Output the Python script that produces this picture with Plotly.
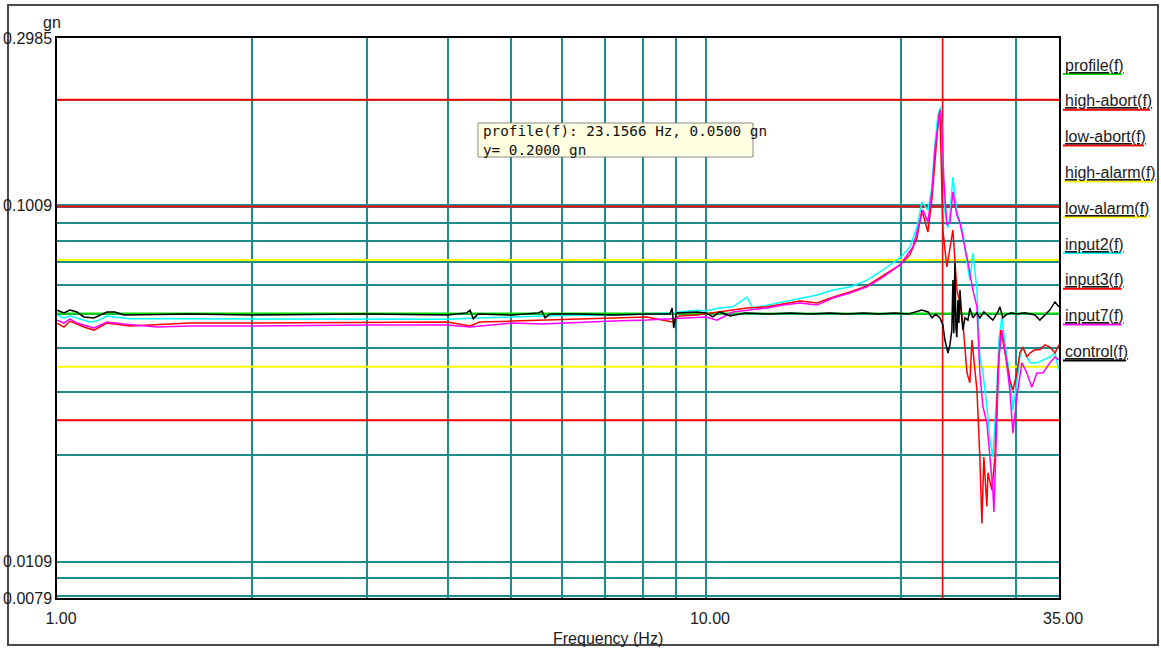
import math
import plotly.graph_objects as go

# ---------------- data ----------------
F_MIN, F_MAX = 1.0, 35.0
Y_MIN, Y_MAX = 0.0079, 0.2985

PROFILE_GN = 0.05
HIGH_ABORT_GN = 0.1
LOW_ABORT_GN = 0.025
HIGH_ALARM_GN = 0.0707
LOW_ALARM_GN = 0.0354

CURSOR_F = 23.1566
CURSOR_Y = 0.2

x_tick_vals = [1, 10, 35]
x_tick_text = ["1.00", "10.00", "35.00"]
x_grid_minor = [2, 3, 4, 5, 6, 7, 8, 9, 20, 30]
y_tick_vals = [0.0079, 0.01, 0.1009, 0.2985]
y_tick_text = ["0.0079", "0.0109", "0.1009", "0.2985"]
y_grid_minor = [0.008, 0.009, 0.02, 0.03, 0.04, 0.05, 0.06, 0.07, 0.08, 0.09, 0.1, 0.2]

input2_f = [1.0, 1.025, 1.047, 1.073, 1.124, 1.152, 1.194, 1.228, 1.296, 1.6,
            2.0, 3.0, 3.99, 4.33, 5.04, 5.59, 6.40, 7.19, 8.11, 8.87,
            9.09, 9.68, 10.0, 10.5, 11.0, 11.57, 11.81, 12.42, 13.14, 13.96,
            14.83, 15.69, 16.67, 17.71, 18.74, 19.91, 20.62, 21.14, 21.52, 21.98,
            22.29, 22.53, 22.78, 23.02, 23.18, 23.35, 23.60, 23.77, 24.02, 24.36,
            24.63, 24.89, 25.25, 25.51, 25.79, 26.16, 26.43, 26.72, 27.10, 27.39,
            27.68, 28.08, 28.28, 28.58, 28.89, 29.20, 29.61, 29.72, 30.14, 30.46,
            30.79, 31.56, 32.36, 33.05, 33.88, 34.50, 35.0]
input2_gn = [0.0495, 0.0486, 0.0492, 0.0486, 0.0473, 0.0476, 0.0492, 0.0489, 0.0483, 0.0483,
             0.0483, 0.0482, 0.0482, 0.0485, 0.0489, 0.0490, 0.0495, 0.0494, 0.0498, 0.0502,
             0.0505, 0.0511, 0.0508, 0.0518, 0.0522, 0.0556, 0.0518, 0.0528, 0.0539, 0.0553,
             0.0564, 0.0582, 0.0594, 0.0621, 0.0663, 0.0717, 0.0770, 0.0876, 0.1030, 0.0978,
             0.1128, 0.1492, 0.1812, 0.1908, 0.1336, 0.0966, 0.0871, 0.0947, 0.1212, 0.0966,
             0.0905, 0.0848, 0.0698, 0.0621, 0.0740, 0.0582, 0.0377, 0.0340, 0.0273, 0.0220,
             0.0197, 0.0304, 0.0421, 0.0489, 0.0413, 0.0363, 0.0291, 0.0267, 0.0319, 0.0377,
             0.0402, 0.0363, 0.0363, 0.0370, 0.0377, 0.0387, 0.0347]

input3_f = [1.0, 1.025, 1.047, 1.100, 1.140, 1.194, 1.296, 1.603, 2.0, 3.0,
            4.0, 4.33, 4.48, 5.04, 5.69, 6.40, 7.19, 8.11, 8.87, 9.09,
            9.68, 10.5, 11.0, 11.57, 12.42, 13.14, 13.96, 14.83, 15.69, 16.67,
            17.71, 18.74, 19.91, 20.62, 21.14, 21.52, 21.98, 22.29, 22.53, 22.78,
            22.94, 23.10, 23.18, 23.51, 23.77, 24.02, 24.36, 24.63, 24.89, 25.25,
            25.51, 25.70, 25.79, 26.16, 26.43, 26.62, 26.81, 27.10, 27.20, 27.59,
            27.88, 28.18, 28.48, 28.68, 29.09, 29.40, 29.72, 30.14, 30.46, 30.79,
            31.23, 31.56, 32.13, 32.70, 33.29, 33.88, 34.50, 35.0]
input3_gn = [0.0470, 0.0458, 0.0476, 0.0458, 0.0449, 0.0470, 0.0461, 0.0470, 0.0470, 0.0473,
             0.0473, 0.0461, 0.0473, 0.0476, 0.0479, 0.0483, 0.0486, 0.0489, 0.0473, 0.0492,
             0.0495, 0.0505, 0.0511, 0.0518, 0.0522, 0.0532, 0.0542, 0.0535, 0.0556, 0.0575,
             0.0598, 0.0639, 0.0685, 0.0731, 0.0816, 0.0978, 0.0848, 0.1044, 0.1353, 0.1700,
             0.1872, 0.1114, 0.0859, 0.0676, 0.0770, 0.0859, 0.0582, 0.0535, 0.0470, 0.0340,
             0.0319, 0.0421, 0.0395, 0.0304, 0.0197, 0.0128, 0.0197, 0.0143, 0.0178, 0.0159,
             0.0197, 0.0340, 0.0449, 0.0421, 0.0363, 0.0325, 0.0304, 0.0340, 0.0387, 0.0402,
             0.0377, 0.0387, 0.0395, 0.0395, 0.0408, 0.0402, 0.0387, 0.0408]

input7_f = [1.0, 1.025, 1.047, 1.073, 1.140, 1.194, 1.268, 1.426, 1.6, 2.0,
            3.0, 3.99, 4.33, 5.04, 5.59, 6.40, 7.19, 8.11, 8.87, 9.68,
            10.0, 10.4, 11.0, 11.57, 12.42, 13.14, 13.96, 14.83, 15.69, 16.67,
            17.71, 18.74, 19.91, 20.84, 21.14, 21.60, 21.98, 22.29, 22.53, 22.86,
            22.94, 23.10, 23.26, 23.51, 23.77, 24.02, 24.36, 24.63, 25.07, 25.34,
            25.79, 26.16, 26.43, 26.72, 27.10, 27.39, 27.68, 27.78, 28.08, 28.28,
            28.58, 28.89, 29.40, 29.72, 30.14, 30.68, 31.23, 31.78, 32.36, 33.05,
            33.88, 34.50, 35.0]
input7_gn = [0.0479, 0.0470, 0.0483, 0.0470, 0.0455, 0.0473, 0.0467, 0.0458, 0.0461, 0.0461,
             0.0464, 0.0464, 0.0458, 0.0470, 0.0467, 0.0473, 0.0476, 0.0479, 0.0483, 0.0489,
             0.0489, 0.0479, 0.0505, 0.0511, 0.0518, 0.0528, 0.0535, 0.0528, 0.0553, 0.0571,
             0.0594, 0.0633, 0.0685, 0.0770, 0.0848, 0.0978, 0.0905, 0.1100, 0.1443, 0.1812,
             0.1860, 0.1700, 0.1189, 0.0890, 0.0905, 0.1100, 0.0947, 0.0899, 0.0770, 0.0694,
             0.0582, 0.0522, 0.0340, 0.0273, 0.0246, 0.0197, 0.0159, 0.0138, 0.0246, 0.0377,
             0.0449, 0.0395, 0.0304, 0.0230, 0.0291, 0.0363, 0.0340, 0.0310, 0.0340, 0.0340,
             0.0363, 0.0377, 0.0370]

control_f = [1.0, 1.025, 1.047, 1.073, 1.100, 1.140, 1.194, 1.228, 1.268, 1.6,
             2.0, 3.0, 4.0, 4.28, 4.33, 4.38, 4.45, 5.04, 5.52, 5.59,
             5.65, 5.75, 6.4, 7.19, 8.11, 8.8, 8.87, 8.92, 9.0, 9.68,
             10.0, 10.25, 10.5, 10.9, 11.5, 12.5, 13.5, 14.5, 15.5, 16.5,
             17.5, 18.5, 19.5, 20.5, 21.5, 22.0, 22.3, 22.6, 22.94, 23.18,
             23.35, 23.60, 23.77, 23.93, 24.02, 24.10, 24.19, 24.28, 24.36, 24.45,
             24.54, 24.63, 24.80, 24.89, 25.07, 25.34, 25.51, 25.79, 26.16, 26.43,
             26.81, 27.2, 27.68, 28.18, 28.38, 28.68, 29.09, 29.61, 30.14, 31.0,
             32.13, 32.7, 33.29, 33.88, 34.5, 35.0]
control_gn = [0.0511, 0.0502, 0.0511, 0.0505, 0.0489, 0.0486, 0.0505, 0.0505, 0.0495, 0.0498,
              0.0495, 0.0498, 0.0495, 0.0502, 0.0511, 0.0483, 0.0498, 0.0495, 0.0502, 0.0508,
              0.0486, 0.0498, 0.0498, 0.0495, 0.0498, 0.0498, 0.0518, 0.0455, 0.0502, 0.0505,
              0.0502, 0.0489, 0.0505, 0.0492, 0.0502, 0.0498, 0.0502, 0.0498, 0.0502, 0.0498,
              0.0502, 0.0498, 0.0502, 0.0498, 0.0511, 0.0505, 0.0486, 0.0498, 0.0486, 0.0464,
              0.0421, 0.0387, 0.0408, 0.0449, 0.0621, 0.0440, 0.0694, 0.0455, 0.0429, 0.0546,
              0.0470, 0.0582, 0.0479, 0.0449, 0.0486, 0.0479, 0.0518, 0.0486, 0.0502, 0.0486,
              0.0505, 0.0492, 0.0479, 0.0505, 0.0522, 0.0486, 0.0498, 0.0502, 0.0498, 0.0502,
              0.0495, 0.0479, 0.0495, 0.0511, 0.0539, 0.0522]

legend_labels = ["profile(f)", "high-abort(f)", "low-abort(f)", "high-alarm(f)",
                 "low-alarm(f)", "input2(f)", "input3(f)", "input7(f)", "control(f)"]
legend_colors = ["#00e000", "#ff0000", "#ff0000", "#ffff00",
                 "#ffff00", "#00ffff", "#ff0000", "#ff00ff", "#000000"]

# ---------------- layout geometry (pixels) ----------------
W, H = 1161, 650
ML, MR, MT, MB = 57, 102, 38, 52
PW, PH = W - ML - MR, H - MT - MB

GRID = "#1e8c8c"
TEXT = "#1a1a1a"
FONT = "Liberation Sans, Arial, sans-serif"


def paper_x(px):
    return (px - ML) / PW


def paper_y(py):
    return 1 - (py - MT) / PH


# Arial advance widths (em) for the legend labels, used for the colour underlines
ARIAL_EM = {"a": .556, "b": .556, "c": .5, "e": .556, "f": .278, "g": .556, "h": .556,
            "i": .222, "l": .222, "m": .833, "n": .556, "o": .556, "p": .556, "r": .333,
            "t": .278, "u": .556, "w": .722, "-": .333, "(": .333, ")": .333}


def text_width(s, size):
    return sum(ARIAL_EM.get(c, .556) for c in s) * size


fig = go.Figure()


def hline(value, color, width):
    fig.add_trace(go.Scatter(x=[F_MIN, F_MAX], y=[value, value], mode="lines",
                             line=dict(color=color, width=width), hoverinfo="skip"))


# profile and limit lines
hline(PROFILE_GN, "#00e000", 2)
hline(HIGH_ABORT_GN, "#ff0000", 2)
hline(LOW_ABORT_GN, "#ff0000", 2)
hline(HIGH_ALARM_GN, "#ffff00", 2)
hline(LOW_ALARM_GN, "#ffff00", 2)

# cursor cross-hair
fig.add_trace(go.Scatter(x=[CURSOR_F, CURSOR_F], y=[Y_MIN, Y_MAX], mode="lines",
                         line=dict(color="#ff0000", width=1.6), hoverinfo="skip"))
hline(CURSOR_Y, "#ff0000", 2.2)

# measured channels
for xs, ys, col in [(input2_f, input2_gn, "#00ffff"),
                    (input3_f, input3_gn, "#ff0000"),
                    (input7_f, input7_gn, "#ff00ff"),
                    (control_f, control_gn, "#000000")]:
    fig.add_trace(go.Scatter(x=xs, y=ys, mode="lines",
                             line=dict(color=col, width=1.5), hoverinfo="skip"))

annotations = []
shapes = []

# side legend: underlined labels with a colour bar beneath
LEG_SIZE = 16
for i, (lab, col) in enumerate(zip(legend_labels, legend_colors)):
    yc = 65 + i * 35.8
    annotations.append(dict(x=paper_x(1063), y=paper_y(yc), xref="paper", yref="paper",
                            xanchor="left", yanchor="middle", showarrow=False,
                            text="<u>" + lab + "</u>",
                            font=dict(family=FONT, size=LEG_SIZE, color=TEXT)))
    w = min(text_width(lab, LEG_SIZE), 94)
    shapes.append(dict(type="line", xref="paper", yref="paper",
                       x0=paper_x(1063), x1=paper_x(1063 + w),
                       y0=paper_y(yc + 9), y1=paper_y(yc + 9),
                       line=dict(color=col, width=2)))

# unit label and axis title
annotations.append(dict(x=paper_x(52), y=paper_y(22), xref="paper", yref="paper",
                        xanchor="center", yanchor="middle", showarrow=False, text="gn",
                        font=dict(family=FONT, size=16, color=TEXT)))
annotations.append(dict(x=paper_x(608), y=paper_y(638), xref="paper", yref="paper",
                        xanchor="center", yanchor="middle", showarrow=False,
                        text="Frequency (Hz)",
                        font=dict(family=FONT, size=16, color=TEXT)))

# cursor read-out box (first line runs slightly past the right border)
shapes.append(dict(type="rect", xref="paper", yref="paper",
                   x0=paper_x(478), x1=paper_x(753), y0=paper_y(157), y1=paper_y(123),
                   fillcolor="#ffffe1", line=dict(color="#8a8a8a", width=1), layer="above"))
readout = [f"profile(f): {CURSOR_F:.4f} Hz, {PROFILE_GN:.4f} gn",
           f"y= {CURSOR_Y:.4f} gn"]
annotations.append(dict(x=paper_x(481), y=paper_y(140), xref="paper", yref="paper",
                        xanchor="left", yanchor="middle", align="left", showarrow=False,
                        text="<br>".join(t.replace(" ", "&nbsp;") for t in readout),
                        font=dict(family="DejaVu Sans Mono, monospace", size=14.3,
                                  color="#111111")))

# outer frame
shapes.append(dict(type="rect", xref="paper", yref="paper",
                   x0=paper_x(8), x1=paper_x(1158), y0=paper_y(645), y1=paper_y(5),
                   line=dict(color="#4a4a4a", width=2), layer="below"))

fig.update_layout(
    width=W, height=H,
    margin=dict(l=ML, r=MR, t=MT, b=MB, pad=0, autoexpand=False),
    paper_bgcolor="white", plot_bgcolor="white",
    showlegend=False,
    font=dict(family=FONT, size=16, color=TEXT),
    annotations=annotations,
    shapes=shapes,
    xaxis=dict(type="log", range=[math.log10(F_MIN), math.log10(F_MAX)], automargin=False,
               tickmode="array", tickvals=x_tick_vals, ticktext=x_tick_text,
               ticks="", showgrid=True, gridcolor=GRID, gridwidth=2,
               minor=dict(tickmode="array", tickvals=x_grid_minor, showgrid=True,
                          gridcolor=GRID, gridwidth=2, ticks=""),
               showline=True, linecolor="#000000", linewidth=1.5, mirror=True,
               zeroline=False, ticklabelstandoff=5, ticklabelshift=4,
               tickfont=dict(family=FONT, size=16, color=TEXT)),
    yaxis=dict(type="log", range=[math.log10(Y_MIN), math.log10(Y_MAX)], automargin=False,
               tickmode="array", tickvals=y_tick_vals, ticktext=y_tick_text,
               ticks="", showgrid=True, gridcolor=GRID, gridwidth=2,
               minor=dict(tickmode="array", tickvals=y_grid_minor, showgrid=True,
                          gridcolor=GRID, gridwidth=2, ticks=""),
               showline=True, linecolor="#000000", linewidth=1.5, mirror=True,
               zeroline=False, ticklabelstandoff=0,
               tickfont=dict(family=FONT, size=16, color=TEXT)),
)

fig.write_html("out.html")
